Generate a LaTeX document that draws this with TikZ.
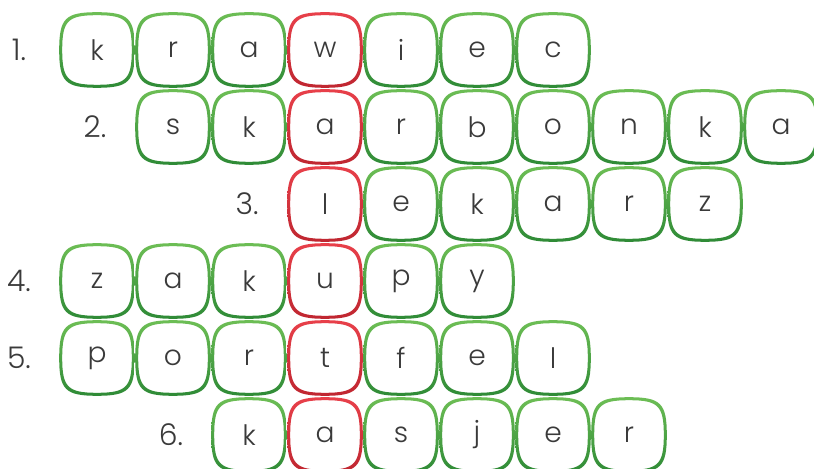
\documentclass[tikz,border=0pt]{standalone}
\usepackage{fontspec}
\setmainfont{Poppins}[UprightFont=* Light]
\definecolor{gtop}{HTML}{6DBE55}
\definecolor{gbot}{HTML}{2E8A36}
\definecolor{rtop}{HTML}{E8404A}
\definecolor{rbot}{HTML}{BF2630}
\definecolor{ink}{HTML}{3A3A3A}
\tikzset{
  letter/.style={text=ink, inner sep=0pt, font=\fontsize{16}{18}\selectfont},
  number/.style={text=ink, inner sep=0pt, font=\fontsize{17}{19}\selectfont}
}
% squircle outline round (#1,#2) with half size #3
\newcommand\squircle[3]{%
  ({#1+#3},{#2}) .. controls ({#1+#3},{#2+0.84*#3}) and ({#1+0.84*#3},{#2+#3}) .. ({#1},{#2+#3})
  .. controls ({#1-0.84*#3},{#2+#3}) and ({#1-#3},{#2+0.84*#3}) .. ({#1-#3},{#2})
  .. controls ({#1-#3},{#2-0.84*#3}) and ({#1-0.84*#3},{#2-#3}) .. ({#1},{#2-#3})
  .. controls ({#1+0.84*#3},{#2-#3}) and ({#1+#3},{#2-0.84*#3}) .. ({#1+#3},{#2}) -- cycle}
% one tile: column, row, letter, colour prefix (g or r)
\newcommand\tile[4]{%
  \pgfmathsetmacro\X{97+76*#1}\pgfmathsetmacro\Y{50+77*(#2-1)}%
  \shade[top color=#4top, bottom color=#4bot, even odd rule]
    \squircle{\X}{\Y}{37.8} \squircle{\X}{\Y}{34.8};
  \node[letter] (r#2c#1) at ({\X},{\Y}) {#3};
}
% one word: row, first column, letters (column 3 is the red one)
\newcommand\wordrow[3]{%
  \node[number] (n#1) at ({97+76*(#2-1)-2},{50+77*(#1-1)}) {#1.};
  \foreach \l [count=\i from #2] in {#3} {%
    \ifnum\i=3 \def\tc{r}\else\def\tc{g}\fi
    \tile{\i}{#1}{\l}{\tc}
  }
}

\begin{document}
\begin{tikzpicture}[x=0.02cm, y=-0.02cm]
\useasboundingbox (0,0) rectangle (814,469);

%words of the crossword
\wordrow{1}{0}{k,r,a,w,i,e,c}
\wordrow{2}{1}{s,k,a,r,b,o,n,k,a}
\wordrow{3}{3}{l,e,k,a,r,z}
\wordrow{4}{0}{z,a,k,u,p,y}
\wordrow{5}{0}{p,o,r,t,f,e,l}
\wordrow{6}{2}{k,a,s,j,e,r}

\end{tikzpicture}
\end{document}
